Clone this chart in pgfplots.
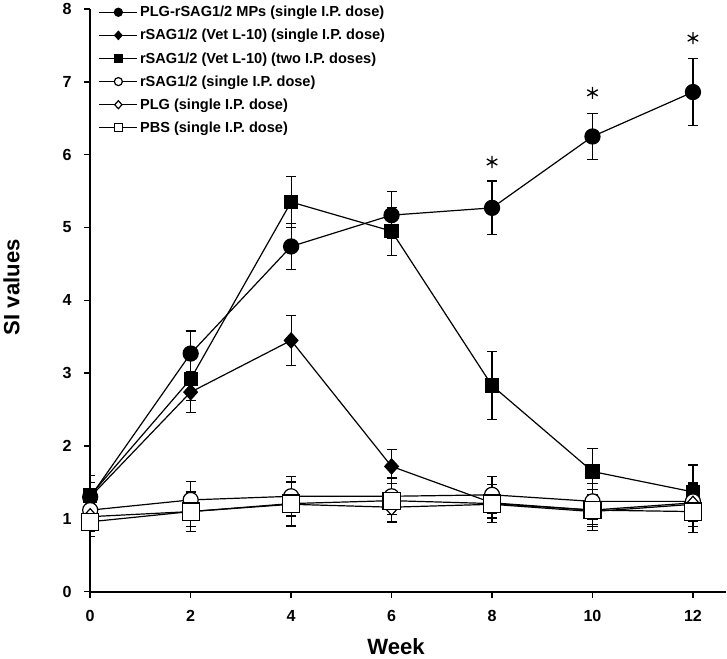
\documentclass[border=0pt]{standalone}
\usepackage{fontspec}
\setmainfont{Liberation Sans}
\usepackage{pgfplots}
\pgfplotsset{compat=1.18}
\usepackage{pgfplotstable}

\pgfplotstableread{
x y e
0 1.30 0.20
2 3.27 0.31
4 4.74 0.32
6 5.17 0.32
8 5.27 0.37
10 6.25 0.32
12 6.86 0.46
}\fcircle
\pgfplotstableread{
x y e
0 1.30 0.20
2 2.74 0.28
4 3.45 0.34
6 1.72 0.23
8 1.22 0.20
10 1.12 0.20
12 1.22 0.25
}\fdiamond
\pgfplotstableread{
x y e
0 1.32 0.27
2 2.92 0.30
4 5.35 0.35
6 4.95 0.33
8 2.83 0.47
10 1.65 0.32
12 1.37 0.37
}\fsquare
\pgfplotstableread{
x y e
0 1.12 0.20
2 1.26 0.25
4 1.31 0.27
6 1.31 0.25
8 1.33 0.25
10 1.24 0.25
12 1.24 0.25
}\ocircle
\pgfplotstableread{
x y e
0 1.03 0.20
2 1.10 0.20
4 1.20 0.30
6 1.16 0.20
8 1.20 0.20
10 1.10 0.20
12 1.20 0.30
}\odiamond
\pgfplotstableread{
x y e
0 0.96 0.20
2 1.10 0.27
4 1.21 0.30
6 1.25 0.30
8 1.21 0.26
10 1.12 0.28
12 1.10 0.29
}\osquare
\pgfplotstableread{
x y
8 5.90
10 6.85
12 7.60
}\stars

\begin{document}
\begin{tikzpicture}
\begin{axis}[
  scale only axis,
  width=633pt, height=580pt,
  xmin=0, xmax=12.66, ymin=0, ymax=8,
  axis x line*=bottom, axis y line*=left,
  axis line style={line width=1.8pt,-},
  xtick={0,2,4,6,8,10,12}, ytick={0,1,...,8},
  tick style={line width=1.5pt,black},
  tick align=outside, major tick length=6pt,
  /pgf/number format/assume math mode=true,
  ticklabel style={font=\fontsize{16}{18}\selectfont\bfseries},
  yticklabel style={xshift=-9pt},
  xticklabel style={yshift=-9pt},
  xlabel={Week}, ylabel={SI values},
  label style={font=\fontsize{22}{24}\selectfont\bfseries},
  xlabel style={yshift=-10pt, xshift=-12pt},
  ylabel style={yshift=36pt, xshift=13pt},
  legend style={draw=none, fill=none, at={(0.013,1.0)}, anchor=north west,
    yshift=5pt,
    font=\fontsize{14.5}{17}\selectfont\bfseries, row sep=7pt,
    inner xsep=0pt, inner ysep=0pt},
  legend cell align=left,
  every legend image post/.style={mark size=4pt},
  every axis plot/.append style={black, line width=1.2pt,
    legend image code/.code={\draw[mark repeat=2,mark phase=2,#1] plot coordinates {(0pt,0pt) (19pt,0pt) (38pt,0pt)};}},
  error bars/error bar style={line width=1.2pt},
  error bars/error mark options={rotate=90, mark size=5pt, line width=1.2pt},
]
\addplot[mark=*, mark size=7.5pt, mark options={fill=black},
  error bars/.cd, y dir=both, y explicit] table[x=x,y=y,y error=e]{\fcircle};
\addlegendentry{PLG-rSAG1/2 MPs (single I.P. dose)}
\addplot[mark=diamond*, mark size=7.5pt, mark options={fill=black, xscale=1.2},
  error bars/.cd, y dir=both, y explicit] table[x=x,y=y,y error=e]{\fdiamond};
\addlegendentry{rSAG1/2 (Vet L-10) (single I.P. dose)}
\addplot[mark=square*, mark size=6.5pt, mark options={fill=black},
  error bars/.cd, y dir=both, y explicit] table[x=x,y=y,y error=e]{\fsquare};
\addlegendentry{rSAG1/2 (Vet L-10) (two I.P. doses)}
\addplot[mark=*, mark size=7.5pt, mark options={fill=white},
  error bars/.cd, y dir=both, y explicit] table[x=x,y=y,y error=e]{\ocircle};
\addlegendentry{rSAG1/2 (single I.P. dose)}
\addplot[mark=diamond*, mark size=8pt, mark options={fill=white, xscale=1.2},
  error bars/.cd, y dir=both, y explicit] table[x=x,y=y,y error=e]{\odiamond};
\addlegendentry{PLG (single I.P. dose)}
\addplot[mark=square*, mark size=8.5pt, mark options={fill=white},
  error bars/.cd, y dir=both, y explicit] table[x=x,y=y,y error=e]{\osquare};
\addlegendentry{PBS (single I.P. dose)}
\addplot[only marks, mark=asterisk, mark size=6pt, line width=1.3pt, forget plot] table[x=x,y=y]{\stars};
\end{axis}
\end{tikzpicture}
\end{document}
